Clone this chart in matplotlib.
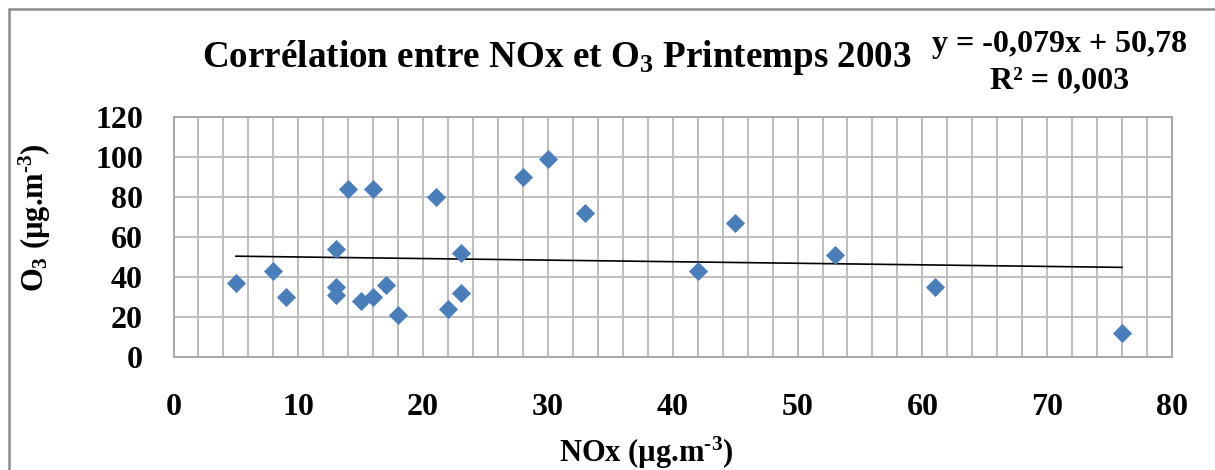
import matplotlib
matplotlib.use("Agg")
import matplotlib.pyplot as plt
from matplotlib.patches import Rectangle
from matplotlib.ticker import MultipleLocator
import numpy as np

# Spring 2003 measurements (µg/m3)
nox = [5, 8, 9, 13, 13, 13, 14, 15, 16, 16, 17, 18, 21, 22, 23, 23,
       28, 30, 33, 42, 45, 53, 61, 76]
o3 = [37, 43, 30, 54, 35, 31, 84, 28, 84, 30, 36, 21, 80, 24, 52, 32,
      90, 99, 72, 43, 67, 51, 35, 12]

# Linear trend as reported in the equation label
slope = -0.079
intercept = 50.78
r2 = 0.003

x_ticks = [0, 10, 20, 30, 40, 50, 60, 70, 80]
y_ticks = [0, 20, 40, 60, 80, 100, 120]

plt.rcParams['font.family'] = ['Liberation Serif', 'DejaVu Serif']
plt.rcParams['font.weight'] = 'bold'
plt.rcParams['mathtext.fontset'] = 'custom'
plt.rcParams['mathtext.rm'] = 'Liberation Serif:bold'
plt.rcParams['mathtext.it'] = 'Liberation Serif:bold'
plt.rcParams['mathtext.bf'] = 'Liberation Serif:bold'

W, H = 1215, 470
fig = plt.figure(figsize=(W / 100, H / 100), dpi=100)

left, right, top, bottom = 173.5, 1172, 117.3, 356.7
ax = fig.add_axes([left / W, 1 - bottom / H, (right - left) / W, (bottom - top) / H])

grid_col = '#bdbdbd'
ax.set_xlim(x_ticks[0], x_ticks[-1])
ax.set_ylim(y_ticks[0], y_ticks[-1])
ax.set_xticks(x_ticks)
ax.set_yticks(y_ticks)
ax.xaxis.set_minor_locator(MultipleLocator(2))
ax.grid(True, which='major', color=grid_col, linewidth=1.4)
ax.grid(True, which='minor', axis='x', color=grid_col, linewidth=1.4)
ax.set_axisbelow(True)
for s in ax.spines.values():
    s.set_color('#a8a8a8')
    s.set_linewidth(1.4)
ax.tick_params(which='both', length=0)
ax.tick_params(axis='x', labelsize=23, pad=26)
ax.tick_params(axis='y', labelsize=23, pad=22)
for lab in ax.get_xticklabels() + ax.get_yticklabels():
    lab.set_fontweight('bold')

ax.scatter(nox, o3, marker='D', s=95, color='#4a7ebb', zorder=3, linewidths=0)

xt = np.array([min(nox), max(nox)])
ax.plot(xt, slope * xt + intercept, color='black', linewidth=1.2, zorder=2)

def fmt(v, nd):
    return f"{v:.{nd}f}".replace('.', ',')

fig.text(557 / W, 1 - 66.7 / H, 'Corrélation entre NOx et O$_3$ Printemps 2003',
         ha='center', va='baseline', fontsize=26.7, fontweight='bold')
fig.text(1060 / W, 1 - 52 / H, f"y = {fmt(slope, 3)}x + {fmt(intercept, 2)}",
         ha='center', va='baseline', fontsize=23, fontweight='bold')
fig.text(1060 / W, 1 - 88 / H, f"R² = {fmt(r2, 3)}",
         ha='center', va='baseline', fontsize=23, fontweight='bold')

fig.text(646 / W, 1 - 453 / H, r'NOx (µg.m$^{\text{-}3}$)', ha='center', va='center',
         fontsize=22, fontweight='bold')
fig.text(35 / W, 1 - 218 / H, r'O$_3$ (µg.m$^{\text{-}3}$)', ha='center', va='center',
         rotation=90, fontsize=22, fontweight='bold')

# Chart-area frame
fig.patches.append(Rectangle((8.5 / W, -0.1), 1.2, 1 - 9 / H + 0.1, transform=fig.transFigure,
                             fill=False, edgecolor='#8c8c8c', linewidth=1.8))

fig.savefig('out.png', dpi=100, facecolor='white')
